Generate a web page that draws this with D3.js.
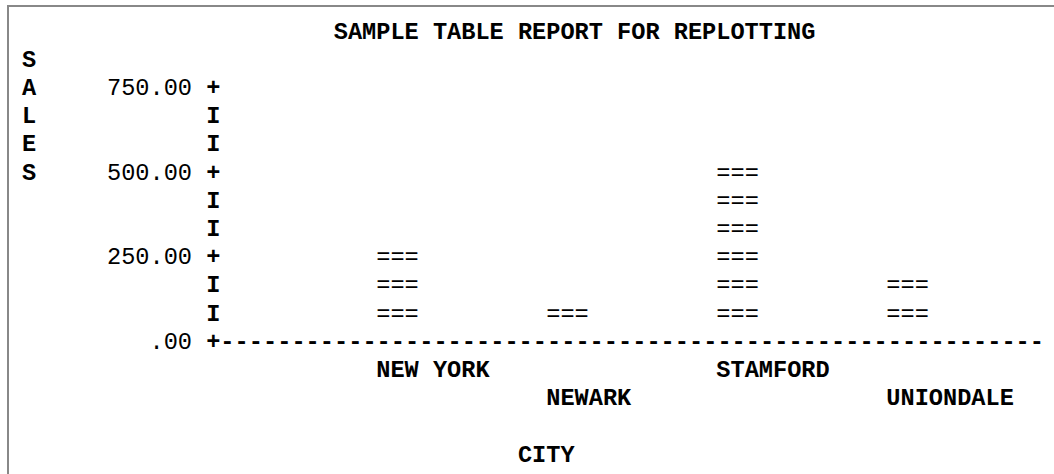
<!DOCTYPE html>
<html>
<head>
<meta charset="utf-8">
<script src="https://cdn.jsdelivr.net/npm/d3@7"></script>
<style>
  html, body { margin: 0; padding: 0; background: #fff; }
  svg text { font-family: "Liberation Mono", "DejaVu Sans Mono", monospace; fill: #000; }
</style>
</head>
<body>
<svg id="chart" width="1054" height="474"></svg>
<script>
// Report data
const title = "SAMPLE TABLE REPORT FOR REPLOTTING";
const yTitle = "SALES";
const xTitle = "CITY";
const cities = ["NEW YORK", "NEWARK", "STAMFORD", "UNIONDALE"];
const sales = [250, 85, 500, 165];
const tickValues = [0, 250, 500, 750];
const tickLabels = [".00", "250.00", "500.00", "750.00"];

// Character-cell grid of the line-printer plot
const CW = 14.17;        // column width
const RH = 28.2;         // row height
const X0 = 22;           // left edge of column 0
const B0 = 38.5;         // baseline of row 0
const colX = c => X0 + c * CW;
const rowB = r => B0 + r * RH;
const FS = CW / 0.6;     // monospace advance = 0.6em

const svg = d3.select("#chart");

// frame
svg.append("rect").attr("x", 7).attr("y", 5).attr("width", 2).attr("height", 469).attr("fill", "#888");
svg.append("rect").attr("x", 7).attr("y", 5).attr("width", 1047).attr("height", 2).attr("fill", "#888");

const g = svg.append("g").style("font-size", FS + "px");

function put(col, baseline, str, opts = {}) {
  return g.append("text")
    .attr("x", colX(col))
    .attr("y", baseline)
    .attr("text-anchor", opts.anchor || "start")
    .style("font-weight", opts.weight || "bold")
    .style("white-space", "pre")
    .text(str);
}

// scales: value -> baseline, city -> column start
const step = 250 / 3;
const y = d3.scaleLinear().domain([0, 750]).range([rowB(11), rowB(2)]);
const x = d3.scalePoint().domain(cities).range([colX(25), colX(61)]);

// title
put(22, rowB(0), title);

// vertical y title
yTitle.split("").forEach((ch, i) => put(0, rowB(1 + i), ch));

// y axis: ticks "+" and filler "I"
const axisCol = 13;
d3.range(0, 750 + step / 2, step).forEach(v => {
  const isTick = tickValues.some(t => Math.abs(t - v) < 1e-6);
  put(axisCol, y(v), isTick ? "+" : "I");
});
tickValues.forEach((t, i) => {
  put(12, y(t), tickLabels[i], { anchor: "end", weight: "normal" });
});

// x axis line, running to the right side of the page
const dashStart = colX(axisCol + 1);
const dashEnd = 1044;
const nDash = Math.round((dashEnd - dashStart) / CW);
put(axisCol + 1, y(0), "-".repeat(nDash))
  .attr("textLength", dashEnd - dashStart)
  .attr("lengthAdjust", "spacingAndGlyphs");

// bars drawn as stacked "===" cells
cities.forEach((c, i) => {
  const n = Math.round(sales[i] / step);
  d3.range(1, n + 1).forEach(k => {
    g.append("text")
      .attr("x", x(c))
      .attr("y", y(k * step))
      .style("font-weight", "normal")
      .text("===");
  });
});

// category labels on alternating rows
cities.forEach((c, i) => {
  g.append("text")
    .attr("x", x(c))
    .attr("y", rowB(12 + (i % 2)))
    .style("font-weight", "bold")
    .style("white-space", "pre")
    .text(c);
});

// x title
put(35, rowB(15), xTitle);
</script>
</body>
</html>
